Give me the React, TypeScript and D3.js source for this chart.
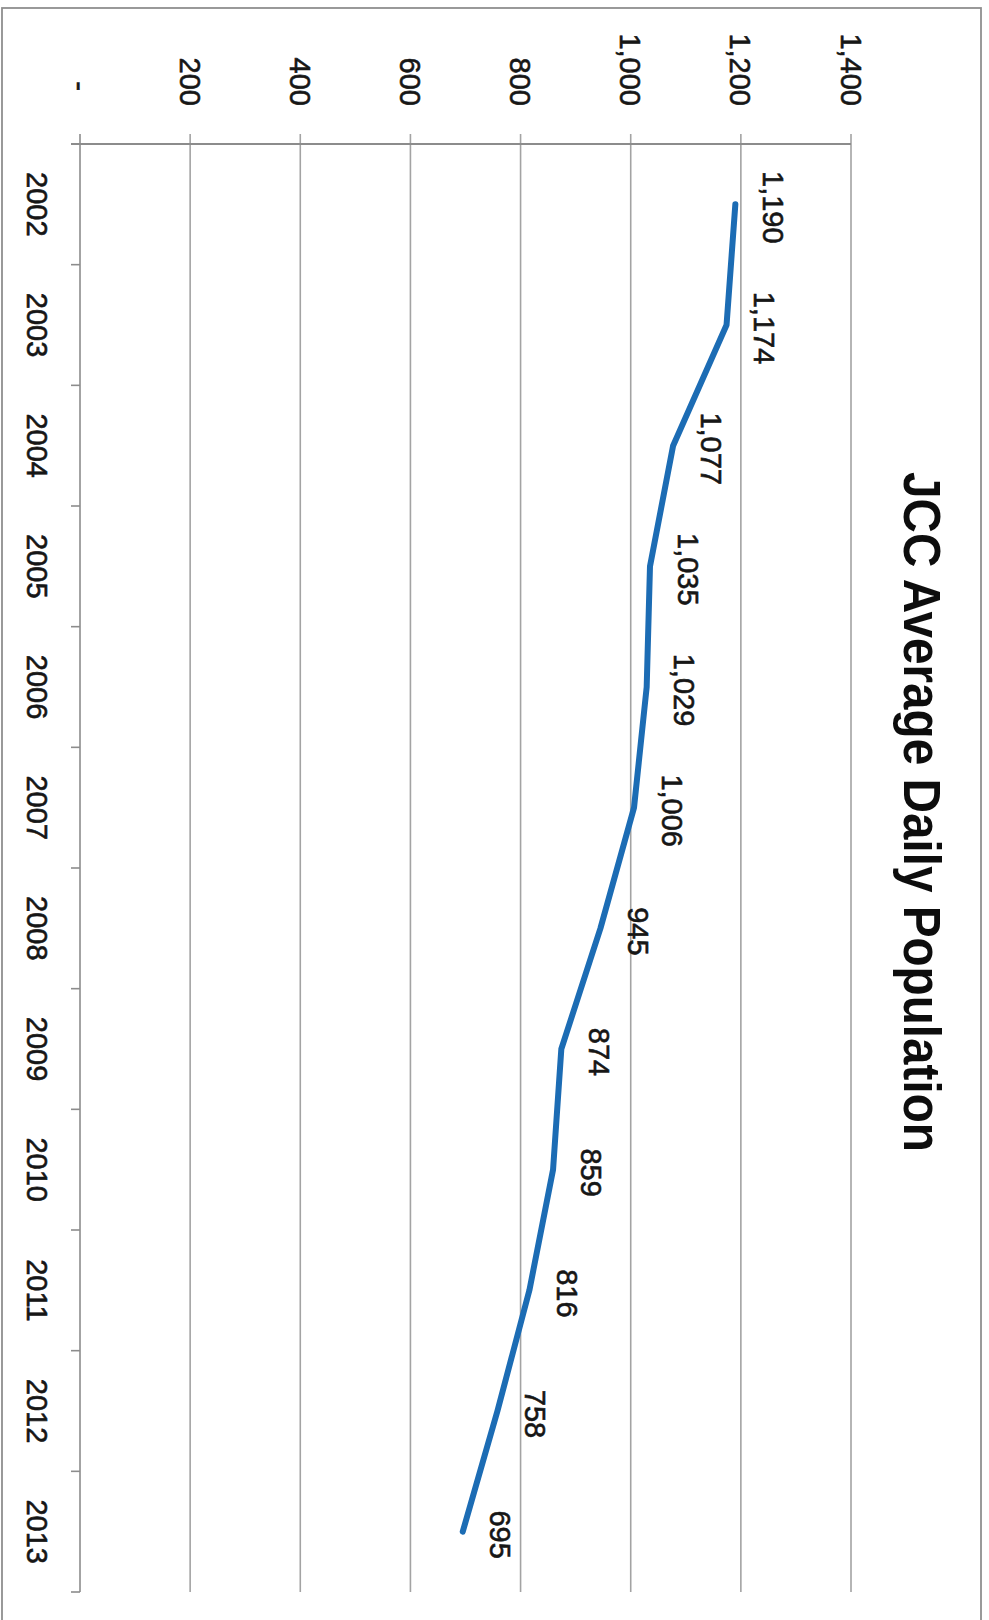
import React from "react";
import * as d3 from "d3";

// JCC average daily population, by year
const years: string[] = ["2002", "2003", "2004", "2005", "2006", "2007", "2008", "2009", "2010", "2011", "2012", "2013"];
const population: number[] = [1190, 1174, 1077, 1035, 1029, 1006, 945, 874, 859, 816, 758, 695];
const valueTicks: number[] = [0, 200, 400, 600, 800, 1000, 1200, 1400];
const title = "JCC Average Daily Population";

const W = 989;
const H = 1620;

// The chart is laid out turned a quarter-turn clockwise:
// values run left → right, years run top → bottom.
const plot = { left: 80, right: 851, top: 144, bottom: 1592 };

const FONT = "'Liberation Sans', Arial, sans-serif";
const LABEL_SIZE = 29;
const CAP = 0.716 * LABEL_SIZE;

const fmt = (v: number) => (v === 0 ? "-" : d3.format(",")(v));

export default function App() {
  const x = d3.scaleLinear().domain([0, 1400]).range([plot.left, plot.right]);
  const y = d3
    .scaleBand<string>()
    .domain(years)
    .range([plot.top, plot.bottom])
    .paddingInner(0)
    .paddingOuter(0);

  const center = (yr: string) => (y(yr) as number) + y.bandwidth() / 2;

  const line = d3
    .line<number>()
    .x((d) => x(d))
    .y((_, i) => center(years[i]));

  // category boundaries (tick marks sit between years)
  const bounds = years.map((yr) => y(yr) as number).concat([plot.bottom]);

  const gridColor = "#a3a3a3";
  const axisColor = "#8c8c8c";
  const textColor = "#161616";
  const textStroke = { stroke: textColor, strokeWidth: 0.6 };

  return (
    <svg
      width={W}
      height={H}
      viewBox={`0 0 ${W} ${H}`}
      style={{ position: "absolute", left: 0, top: 0, background: "#ffffff" }}
    >
      {/* chart frame */}
      <rect x={2} y={8} width={979} height={H + 20} fill="none" stroke="#8f8f8f" strokeWidth={1.8} />

      {/* value gridlines + tick marks */}
      {valueTicks.map((v) => (
        <line
          key={`g${v}`}
          x1={x(v)}
          x2={x(v)}
          y1={plot.top - 10}
          y2={plot.bottom}
          stroke={v === 0 ? axisColor : gridColor}
          strokeWidth={1.6}
        />
      ))}

      {/* value axis line */}
      <line x1={plot.left - 9} x2={x(1400)} y1={plot.top} y2={plot.top} stroke={axisColor} strokeWidth={1.8} />

      {/* category tick marks */}
      {bounds.map((b, i) => (
        <line key={`t${i}`} x1={plot.left - 9} x2={plot.left} y1={b} y2={b} stroke={axisColor} strokeWidth={1.6} />
      ))}

      {/* value tick labels (zero shown as a dash, padded like accounting format) */}
      {valueTicks.map((v) => (
        <text
          key={`vl${v}`}
          transform={`translate(${x(v) - CAP / 2},${v === 0 ? 86 : 106}) rotate(90)`}
          textAnchor={v === 0 ? "middle" : "end"}
          fontFamily={FONT}
          fontSize={LABEL_SIZE}
          fill={textColor}
          {...textStroke}
        >
          {fmt(v)}
        </text>
      ))}

      {/* year labels */}
      {years.map((yr) => (
        <text
          key={`yl${yr}`}
          transform={`translate(27,${center(yr)}) rotate(90)`}
          textAnchor="middle"
          fontFamily={FONT}
          fontSize={LABEL_SIZE}
          fill={textColor}
          {...textStroke}
        >
          {yr}
        </text>
      ))}

      {/* population line */}
      <path
        d={line(population) || ""}
        fill="none"
        stroke="#1c6cb4"
        strokeWidth={6}
        strokeLinejoin="round"
        strokeLinecap="round"
      />

      {/* data labels */}
      {population.map((v, i) => (
        <text
          key={`dl${i}`}
          transform={`translate(${x(v) + 38 - CAP / 2},${center(years[i]) + 3}) rotate(90)`}
          textAnchor="middle"
          fontFamily={FONT}
          fontSize={LABEL_SIZE}
          fill={textColor}
          {...textStroke}
        >
          {fmt(v)}
        </text>
      ))}

      {/* title */}
      <text
        transform={`translate(904,812) rotate(90)`}
        textAnchor="middle"
        fontFamily={FONT}
        fontWeight="bold"
        fontSize={51}
        textLength={680}
        lengthAdjust="spacingAndGlyphs"
        fill="#0d0d0d"
      >
        {title}
      </text>
    </svg>
  );
}
